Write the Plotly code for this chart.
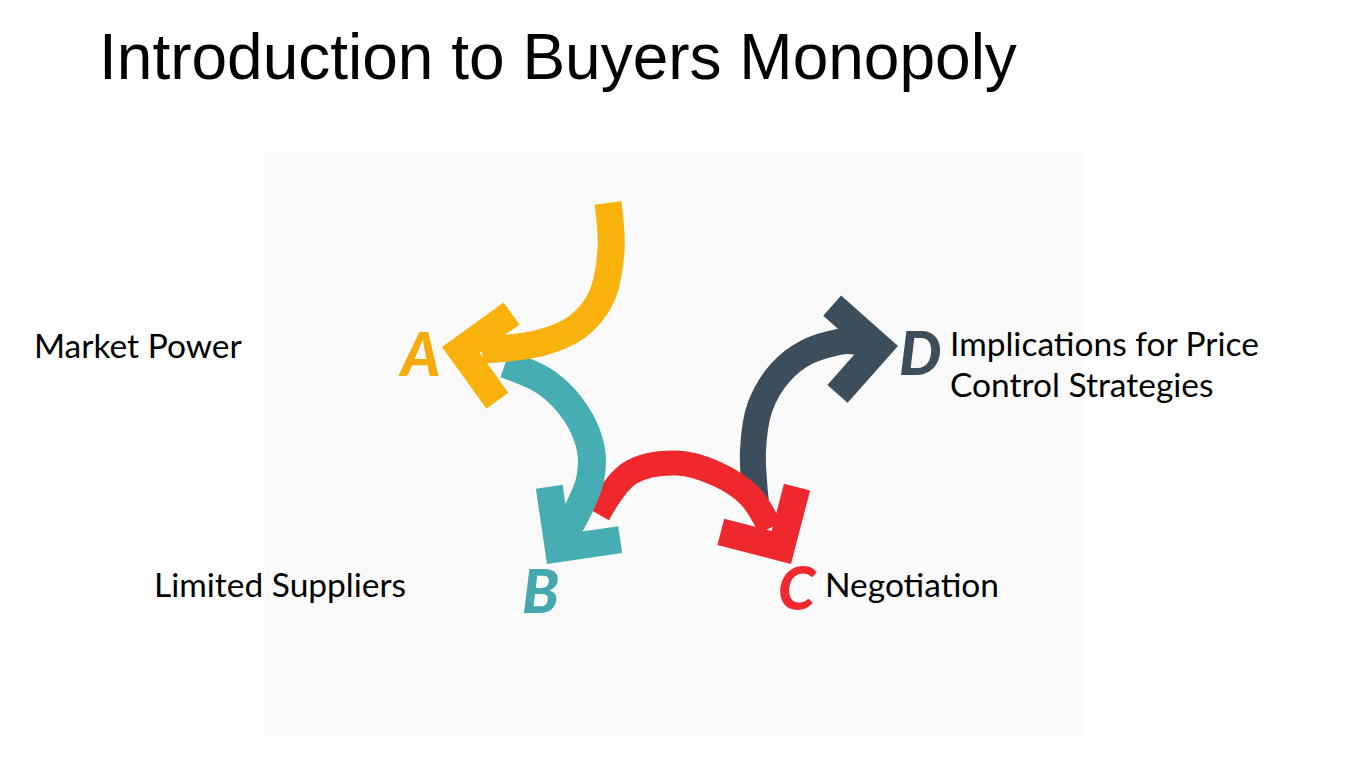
import numpy as np
import plotly.graph_objects as go

# content of the diagram
title = "Introduction to Buyers Monopoly"
letters = ["A", "B", "C", "D"]
step_labels = [["Market Power"], ["Limited Suppliers"], ["Negotiation"],
               ["Implications for Price", "Control Strategies"]]
arrow_colors = ["#F9B10C", "#46ADB2", "#EF282E", "#3C4E5B"]
letter_colors = ["#F5AA0E", "#43A9AE", "#EE2A2F", "#3C4E5B"]

# geometry (page pixels, y grows downward)
body_paths = [
    [(608, 203), (611, 250), (601, 298), (577, 327), (540, 343), (482, 350)],
    [(505, 364), (547, 383), (577, 415), (591, 450), (590, 480), (578, 510), (566, 532)],
    [(598, 514), (630, 473), (677, 463), (717, 474), (750, 496), (770, 528)],
    [(756, 503), (753, 450), (760, 407), (780, 373), (807, 352), (847, 341), (862, 343)],
]
body_widths = [27, 28, 25, 26]
head_tips = [(442, 347), (547, 564), (791, 564), (898, 346)]
head_dirs = [(-0.987, -0.16), (-0.596, 0.803), (0.507, 0.862), (0.998, -0.06)]
head_len = 76
head_thick = 27
letter_pos = [(419, 353), (540, 590), (797, 587), (920, 352)]
label_pos = [[(32, 345)], [(152, 584)], [(823, 584)], [(948, 343), (948, 384)]]


def chevron(tip, d, length, thick):
    t = np.array(tip, float)
    d = np.array(d, float)
    d = d / np.hypot(*d)
    back = -d
    c, s = np.cos(np.pi / 4), np.sin(np.pi / 4)
    u1 = np.array([back[0] * c - back[1] * s, back[0] * s + back[1] * c])
    u2 = np.array([back[0] * c + back[1] * s, -back[0] * s + back[1] * c])
    a1 = t + length * u1
    a2 = t + length * u2
    inner = t + thick * (u1 + u2)
    pts = [t, a1, a1 + thick * u2, inner, a2 + thick * u1, a2, t]
    return [p[0] for p in pts], [p[1] for p in pts]


fig = go.Figure()

# draw back to front: D under C, C under B, B under A
for i in [3, 2, 1, 0]:
    xs = [p[0] for p in body_paths[i]]
    ys = [p[1] for p in body_paths[i]]
    fig.add_trace(go.Scatter(
        x=xs, y=ys, mode="lines",
        line=dict(color=arrow_colors[i], width=body_widths[i], shape="spline", smoothing=1.0),
        hoverinfo="skip", showlegend=False,
    ))
    hx, hy = chevron(head_tips[i], head_dirs[i], head_len, head_thick)
    fig.add_trace(go.Scatter(
        x=hx, y=hy, mode="lines", fill="toself",
        fillcolor=arrow_colors[i], line=dict(width=0, color=arrow_colors[i]),
        hoverinfo="skip", showlegend=False,
    ))

# big step letters
for i, letter in enumerate(letters):
    fig.add_annotation(
        x=letter_pos[i][0], y=letter_pos[i][1], text=letter, showarrow=False,
        xanchor="center", yanchor="middle",
        font=dict(family="Lato", size=60, color=letter_colors[i], weight=900, style="italic"),
    )

# step descriptions
for lines, poss in zip(step_labels, label_pos):
    box_h = 40 if len(lines) > 1 else None
    for line, (lx, ly) in zip(lines, poss):
        fig.add_annotation(
            x=lx, y=ly, text=line, showarrow=False,
            xanchor="left", yanchor="middle", height=box_h,
            font=dict(family="Lato", size=33.5, color="#000000"),
        )

fig.add_annotation(
    x=97, y=57, text=title, showarrow=False, xanchor="left", yanchor="middle",
    font=dict(family="Liberation Sans, Arial", size=64, color="#000000"),
)

# faint panel behind the diagram
fig.add_shape(type="rect", x0=265, y0=152, x1=1085, y1=735,
              fillcolor="#FAFAFA", line_width=0, layer="below")

fig.update_layout(
    width=1350, height=759,
    margin=dict(l=0, r=0, t=0, b=0),
    paper_bgcolor="white", plot_bgcolor="white",
    xaxis=dict(range=[0, 1350], visible=False, fixedrange=True),
    yaxis=dict(range=[759, 0], visible=False, fixedrange=True),
    hovermode=False,
)

fig.write_html("out.html", config={"displayModeBar": False},
               post_script="document.body.style.margin='0';")
